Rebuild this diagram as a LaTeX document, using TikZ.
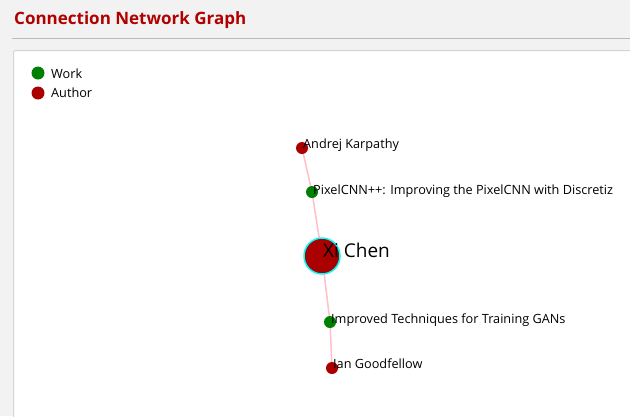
\documentclass[tikz,border=0pt]{standalone}
\usepackage{fontspec}
\setmainfont{Open Sans}
\definecolor{bg}{HTML}{F2F2F2}
\definecolor{titlered}{HTML}{B00000}
\definecolor{workgreen}{HTML}{008000}
\definecolor{authred}{HTML}{AA0000}
\definecolor{edgepink}{HTML}{FFC0CB}
\definecolor{panelborder}{HTML}{D4D4D4}
\definecolor{rulegray}{HTML}{BBBBBB}
\definecolor{ring}{HTML}{00FFFF}
\tikzset{
  work/.style={circle,fill=workgreen,inner sep=0pt,minimum size=12bp},
  author/.style={circle,fill=authred,inner sep=0pt,minimum size=12bp},
  lbl/.style={anchor=base west,inner sep=0pt,font=\fontsize{12.7bp}{15bp}\selectfont,text=black},
  edge/.style={draw=edgepink,line width=1.5bp},
}
\begin{document}
\begin{tikzpicture}[x=1bp,y=-1bp]
\fill[bg] (0,0) rectangle (630,416);
\useasboundingbox (0,0) rectangle (630,416);
\node[anchor=base west,inner sep=0pt,font=\fontsize{17bp}{20bp}\selectfont\bfseries,text=titlered] (title) at (14,24) {Connection Network Graph};
\draw[rulegray,line width=1bp] (12,38) -- (640,38);
\draw[panelborder,line width=1bp,fill=white,rounded corners=2bp] (13.5,50.5) rectangle (660,440);
% legend
\node[work,minimum size=13bp] (lw) at (38,73) {};
\node[author,minimum size=13bp] (la) at (38,93) {};
\node[lbl] (lwt) at (51,78) {Work};
\node[lbl] (lat) at (51,97) {Author};
% nodes
\coordinate (ak) at (302,148);
\coordinate (px) at (312,192);
\coordinate (xc) at (322,256);
\coordinate (it) at (330,322);
\coordinate (ig) at (332,368);
\draw[edge] (ak) -- (px) -- (xc) -- (it) -- (ig);
\node[author] (nak) at (ak) {};
\node[work] (npx) at (px) {};
\node[circle,fill=authred,draw=ring,line width=1.5bp,inner sep=0pt,minimum size=36bp] (nxc) at (xc) {};
\node[work] (nit) at (it) {};
\node[author] (nig) at (ig) {};
\node[lbl] (tak) at (303,148) {Andrej Karpathy};
\node[lbl] (tpx) at (313,194) {PixelCNN++: Improving the PixelCNN with Discretiz};
\node[lbl,font=\fontsize{19bp}{22bp}\selectfont] (txc) at (323,257) {Xi Chen};
\node[lbl] (tit) at (331,323) {Improved Techniques for Training GANs};
\node[lbl] (tig) at (333,368) {Ian Goodfellow};
\end{tikzpicture}
\end{document}
